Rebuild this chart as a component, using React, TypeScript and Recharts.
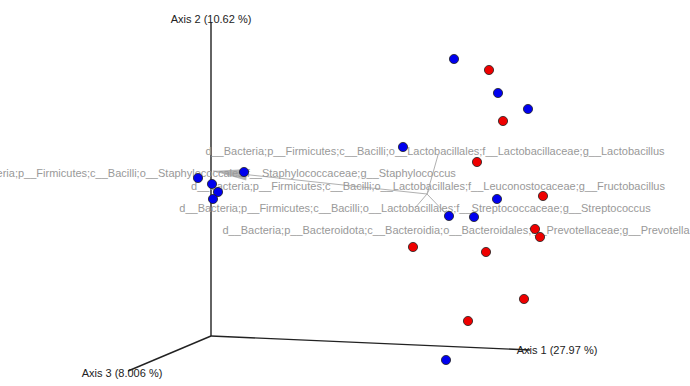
import { ScatterChart, Scatter, XAxis, YAxis, ReferenceLine } from 'recharts';

// projected screen positions of the samples (pcoa, 3 axes flattened)
const blueSamples = [
  { x: 454, y: 59 },
  { x: 498, y: 93 },
  { x: 528, y: 109 },
  { x: 403, y: 147 },
  { x: 244, y: 172 },
  { x: 198, y: 178 },
  { x: 212, y: 184 },
  { x: 218, y: 192 },
  { x: 213, y: 199 },
  { x: 497, y: 199 },
  { x: 449, y: 216 },
  { x: 474, y: 217 },
  { x: 446, y: 360 },
];

const redSamples = [
  { x: 489, y: 70 },
  { x: 503, y: 121 },
  { x: 477, y: 162 },
  { x: 543, y: 196 },
  { x: 535, y: 229 },
  { x: 540, y: 237 },
  { x: 413, y: 247 },
  { x: 486, y: 252 },
  { x: 524, y: 299 },
  { x: 468, y: 321 },
];

const axisOrigin = { x: 211, y: 336 };
const axisEnds = [
  { name: 'Axis 1 (27.97 %)', x: 530, y: 350, lx: 557, ly: 350 },
  { name: 'Axis 2 (10.62 %)', x: 211, y: 22, lx: 211, ly: 19 },
  { name: 'Axis 3 (8.006 %)', x: 128, y: 371, lx: 122, ly: 373 },
];

const biplotOrigin = { x: 427, y: 194 };
const taxa = [
  'd__Bacteria;p__Firmicutes;c__Bacilli;o__Lactobacillales;f__Lactobacillaceae;g__Lactobacillus',
  'd__Bacteria;p__Firmicutes;c__Bacilli;o__Staphylococcales;f__Staphylococcaceae;g__Staphylococcus',
  'd__Bacteria;p__Firmicutes;c__Bacilli;o__Lactobacillales;f__Leuconostocaceae;g__Fructobacillus',
  'd__Bacteria;p__Firmicutes;c__Bacilli;o__Lactobacillales;f__Streptococcaceae;g__Streptococcus',
  'd__Bacteria;p__Bacteroidota;c__Bacteroidia;o__Bacteroidales;f__Prevotellaceae;g__Prevotella',
];
const arrowTips = [
  { x: 438, y: 155, head: 0 },
  { x: 213, y: 171, head: 34 },
  { x: 429, y: 190, head: 0 },
  { x: 415, y: 208, head: 0 },
  { x: 452, y: 220, head: 0 },
];
const labelPos = [
  { x: 435, y: 151 },
  { x: 206, y: 173 },
  { x: 428, y: 186 },
  { x: 415, y: 208 },
  { x: 456, y: 230 },
];

const labels = taxa.map((t, i) => ({ ...labelPos[i], name: t }));
const axisLabels = axisEnds.map((a) => ({ x: a.lx, y: a.ly, name: a.name }));

const FONT = 'Liberation Sans, Arial, sans-serif';

const Arrow = (props: any) => {
  const { x1, y1, x2, y2, head } = props;
  if (x1 == null) return null;
  const dx = x2 - x1;
  const dy = y2 - y1;
  const len = Math.sqrt(dx * dx + dy * dy) || 1;
  const ux = dx / len;
  const uy = dy / len;
  let cone = null;
  if (head > 0) {
    const bx = x2 - ux * head;
    const by = y2 - uy * head;
    const w = head * 0.17;
    cone = (
      <polygon
        points={`${x2},${y2} ${bx - uy * w},${by + ux * w} ${bx + uy * w},${by - ux * w}`}
        fill="#b4b4b4"
      />
    );
  }
  return (
    <g>
      <line x1={x1} y1={y1} x2={x2} y2={y2} stroke="#b0b0b0" strokeWidth={1} />
      {cone}
    </g>
  );
};

const Dot = (color: string) => (props: any) => {
  const { cx, cy } = props;
  return <circle cx={cx} cy={cy} r={4.6} fill={color} stroke="#222" strokeWidth={0.8} />;
};

const TextMark = (color: string, size: number) => (props: any) => {
  const { cx, cy, payload } = props;
  return (
    <text
      x={cx}
      y={cy}
      textAnchor="middle"
      dominantBaseline="central"
      fontFamily={FONT}
      fontSize={size}
      fill={color}
    >
      {payload.name}
    </text>
  );
};

export default function App() {
  return (
    <div style={{ position: 'absolute', left: 0, top: 0, width: 690, height: 386, background: '#fff' }}>
      <ScatterChart width={690} height={386} margin={{ top: 0, right: 0, bottom: 0, left: 0 }}>
        <XAxis type="number" dataKey="x" domain={[0, 690]} hide />
        <YAxis type="number" dataKey="y" domain={[0, 386]} reversed hide />
        {axisEnds.map((a) => (
          <ReferenceLine
            key={a.name}
            segment={[axisOrigin, { x: a.x, y: a.y }]}
            stroke="#222"
            strokeWidth={1.4}
            ifOverflow="visible"
          />
        ))}
        <Scatter data={labels} shape={TextMark('#999999', 11)} isAnimationActive={false} />
        {arrowTips.map((t, i) => (
          <ReferenceLine
            key={i}
            segment={[biplotOrigin, { x: t.x, y: t.y }]}
            ifOverflow="visible"
            shape={(p: any) => <Arrow {...p} head={t.head} />}
          />
        ))}
        <Scatter data={blueSamples} shape={Dot('#0000ee')} isAnimationActive={false} />
        <Scatter data={redSamples} shape={Dot('#ee0000')} isAnimationActive={false} />
        <Scatter data={axisLabels} shape={TextMark('#222', 11)} isAnimationActive={false} />
      </ScatterChart>
    </div>
  );
}
